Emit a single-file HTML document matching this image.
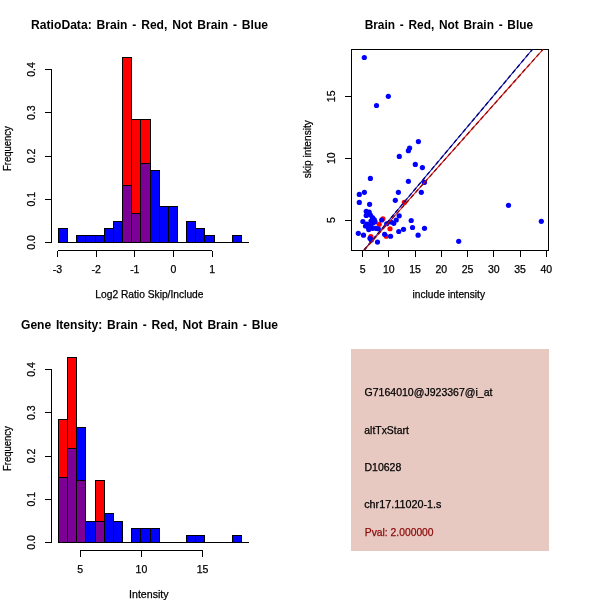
<!DOCTYPE html>
<html><head><meta charset="utf-8"><title>plot</title>
<style>
html,body{margin:0;padding:0;background:#fff;}
svg{display:block;}
text{font-family:"Liberation Sans",sans-serif;fill:#000;}
.t{font-size:10.5px;stroke:#000;stroke-width:0.25px;}
.h{font-size:12.5px;font-weight:bold;word-spacing:1.5px;}
</style></head><body>
<svg width="600" height="600" viewBox="0 0 600 600" shape-rendering="crispEdges">
<rect x="0" y="0" width="600" height="600" fill="#fff"/>
<!-- panel 1 -->
<text class="h" text-anchor="middle" x="149.6" y="29.2" textLength="237" lengthAdjust="spacingAndGlyphs">RatioData: Brain - Red, Not Brain - Blue</text>
<rect x="58.5" y="228.5" width="9.0" height="14.0" fill="#0000ff" stroke="#000" stroke-width="1"/>
<rect x="76.5" y="235.5" width="9.0" height="7.0" fill="#0000ff" stroke="#000" stroke-width="1"/>
<rect x="85.5" y="235.5" width="10.0" height="7.0" fill="#0000ff" stroke="#000" stroke-width="1"/>
<rect x="95.5" y="235.5" width="9.0" height="7.0" fill="#0000ff" stroke="#000" stroke-width="1"/>
<rect x="104.5" y="228.5" width="9.0" height="14.0" fill="#0000ff" stroke="#000" stroke-width="1"/>
<rect x="113.5" y="221.5" width="9.0" height="21.0" fill="#0000ff" stroke="#000" stroke-width="1"/>
<rect x="122.5" y="185.5" width="9.0" height="57.0" fill="#0000ff" stroke="#000" stroke-width="1"/>
<rect x="131.5" y="213.5" width="9.0" height="29.0" fill="#0000ff" stroke="#000" stroke-width="1"/>
<rect x="140.5" y="163.5" width="10.0" height="79.0" fill="#0000ff" stroke="#000" stroke-width="1"/>
<rect x="150.5" y="170.5" width="9.0" height="72.0" fill="#0000ff" stroke="#000" stroke-width="1"/>
<rect x="159.5" y="206.5" width="9.0" height="36.0" fill="#0000ff" stroke="#000" stroke-width="1"/>
<rect x="168.5" y="206.5" width="9.0" height="36.0" fill="#0000ff" stroke="#000" stroke-width="1"/>
<rect x="186.5" y="221.5" width="9.0" height="21.0" fill="#0000ff" stroke="#000" stroke-width="1"/>
<rect x="195.5" y="228.5" width="9.0" height="14.0" fill="#0000ff" stroke="#000" stroke-width="1"/>
<rect x="204.5" y="235.5" width="10.0" height="7.0" fill="#0000ff" stroke="#000" stroke-width="1"/>
<rect x="232.5" y="235.5" width="9.0" height="7.0" fill="#0000ff" stroke="#000" stroke-width="1"/>
<line x1="58" y1="242.5" x2="249" y2="242.5" stroke="#000" stroke-width="1"/>
<rect x="122.5" y="57.5" width="9.0" height="185.0" fill="#ff0000" stroke="#000" stroke-width="1"/>
<rect x="122.5" y="185.5" width="9.0" height="57.0" fill="#7d0096" stroke="#000" stroke-width="1"/>
<rect x="131.5" y="119.5" width="9.0" height="123.0" fill="#ff0000" stroke="#000" stroke-width="1"/>
<rect x="131.5" y="213.5" width="9.0" height="29.0" fill="#7d0096" stroke="#000" stroke-width="1"/>
<rect x="140.5" y="119.5" width="10.0" height="123.0" fill="#ff0000" stroke="#000" stroke-width="1"/>
<rect x="140.5" y="163.5" width="10.0" height="79.0" fill="#7d0096" stroke="#000" stroke-width="1"/>
<line x1="51.5" y1="69.5" x2="51.5" y2="242.5" stroke="#000"/>
<line x1="44.5" y1="242.5" x2="51.5" y2="242.5" stroke="#000"/>
<text class="t" text-anchor="middle" transform="translate(34.8,242.5) rotate(-90)">0.0</text>
<line x1="44.5" y1="199.25" x2="51.5" y2="199.25" stroke="#000"/>
<text class="t" text-anchor="middle" transform="translate(34.8,199.25) rotate(-90)">0.1</text>
<line x1="44.5" y1="156.0" x2="51.5" y2="156.0" stroke="#000"/>
<text class="t" text-anchor="middle" transform="translate(34.8,156.0) rotate(-90)">0.2</text>
<line x1="44.5" y1="112.75" x2="51.5" y2="112.75" stroke="#000"/>
<text class="t" text-anchor="middle" transform="translate(34.8,112.75) rotate(-90)">0.3</text>
<line x1="44.5" y1="69.5" x2="51.5" y2="69.5" stroke="#000"/>
<text class="t" text-anchor="middle" transform="translate(34.8,69.5) rotate(-90)">0.4</text>
<line x1="57.5" y1="250.5" x2="212.2" y2="250.5" stroke="#000"/>
<line x1="57.5" y1="250.5" x2="57.5" y2="257.0" stroke="#000"/>
<text class="t" text-anchor="middle" x="57.5" y="273.2">-3</text>
<line x1="96.2" y1="250.5" x2="96.2" y2="257.0" stroke="#000"/>
<text class="t" text-anchor="middle" x="96.2" y="273.2">-2</text>
<line x1="134.8" y1="250.5" x2="134.8" y2="257.0" stroke="#000"/>
<text class="t" text-anchor="middle" x="134.8" y="273.2">-1</text>
<line x1="173.4" y1="250.5" x2="173.4" y2="257.0" stroke="#000"/>
<text class="t" text-anchor="middle" x="173.4" y="273.2">0</text>
<line x1="212.2" y1="250.5" x2="212.2" y2="257.0" stroke="#000"/>
<text class="t" text-anchor="middle" x="212.2" y="273.2">1</text>
<text class="t" text-anchor="middle" x="149.4" y="297.8" textLength="108.2" lengthAdjust="spacingAndGlyphs">Log2 Ratio Skip/Include</text>
<text class="t" text-anchor="middle" transform="translate(11.2,148.6) rotate(-90)" textLength="44.8" lengthAdjust="spacingAndGlyphs">Frequency</text>
<!-- panel 2 -->
<text class="h" text-anchor="middle" x="448.9" y="29.2" textLength="168.5" lengthAdjust="spacingAndGlyphs">Brain - Red, Not Brain - Blue</text>
<rect x="351.5" y="49.5" width="197" height="201" fill="none" stroke="#000"/>
<g shape-rendering="geometricPrecision">
<circle cx="382.9" cy="218.75" r="2.6" fill="#ff0000"/>
<circle cx="379.2" cy="224.3" r="2.6" fill="#ff0000"/>
<circle cx="390" cy="228.75" r="2.6" fill="#ff0000"/>
<circle cx="404.3" cy="202.4" r="2.6" fill="#ff0000"/>
<circle cx="370.8" cy="236.7" r="2.6" fill="#ff0000"/>
<circle cx="386.25" cy="236.25" r="2.6" fill="#ff0000"/>
<circle cx="424.3" cy="182.3" r="2.6" fill="#ff0000"/>
<circle cx="364.3" cy="57.5" r="2.6" fill="#0000ff"/>
<circle cx="388.3" cy="96.3" r="2.6" fill="#0000ff"/>
<circle cx="376.5" cy="105.5" r="2.6" fill="#0000ff"/>
<circle cx="418.4" cy="141.6" r="2.6" fill="#0000ff"/>
<circle cx="409.6" cy="148" r="2.6" fill="#0000ff"/>
<circle cx="408.4" cy="150.7" r="2.6" fill="#0000ff"/>
<circle cx="399.3" cy="156.4" r="2.6" fill="#0000ff"/>
<circle cx="415.3" cy="164.4" r="2.6" fill="#0000ff"/>
<circle cx="422.4" cy="167.6" r="2.6" fill="#0000ff"/>
<circle cx="370.4" cy="178.4" r="2.6" fill="#0000ff"/>
<circle cx="408.4" cy="181.3" r="2.6" fill="#0000ff"/>
<circle cx="424.3" cy="182.3" r="2.6" fill="#0000ff"/>
<circle cx="364.4" cy="192.3" r="2.6" fill="#0000ff"/>
<circle cx="359.3" cy="194.4" r="2.6" fill="#0000ff"/>
<circle cx="398.4" cy="192.3" r="2.6" fill="#0000ff"/>
<circle cx="421.3" cy="192.3" r="2.6" fill="#0000ff"/>
<circle cx="395.3" cy="200.3" r="2.6" fill="#0000ff"/>
<circle cx="359.3" cy="202.4" r="2.6" fill="#0000ff"/>
<circle cx="369.6" cy="204.3" r="2.6" fill="#0000ff"/>
<circle cx="366.25" cy="211.25" r="2.6" fill="#0000ff"/>
<circle cx="369.2" cy="212.1" r="2.6" fill="#0000ff"/>
<circle cx="366.25" cy="215.4" r="2.6" fill="#0000ff"/>
<circle cx="370.4" cy="215" r="2.6" fill="#0000ff"/>
<circle cx="372.5" cy="217.5" r="2.6" fill="#0000ff"/>
<circle cx="374.2" cy="219.6" r="2.6" fill="#0000ff"/>
<circle cx="375" cy="221.7" r="2.6" fill="#0000ff"/>
<circle cx="362.9" cy="221.5" r="2.6" fill="#0000ff"/>
<circle cx="381.7" cy="220" r="2.6" fill="#0000ff"/>
<circle cx="367.9" cy="226.7" r="2.6" fill="#0000ff"/>
<circle cx="370.8" cy="225" r="2.6" fill="#0000ff"/>
<circle cx="368.75" cy="229.6" r="2.6" fill="#0000ff"/>
<circle cx="372.5" cy="228.3" r="2.6" fill="#0000ff"/>
<circle cx="375.8" cy="228.3" r="2.6" fill="#0000ff"/>
<circle cx="378.3" cy="228.75" r="2.6" fill="#0000ff"/>
<circle cx="358.3" cy="233.3" r="2.6" fill="#0000ff"/>
<circle cx="363.5" cy="235.2" r="2.6" fill="#0000ff"/>
<circle cx="370" cy="238.3" r="2.6" fill="#0000ff"/>
<circle cx="371.25" cy="240" r="2.6" fill="#0000ff"/>
<circle cx="377.5" cy="242.1" r="2.6" fill="#0000ff"/>
<circle cx="384.6" cy="234.3" r="2.6" fill="#0000ff"/>
<circle cx="390.6" cy="236.25" r="2.6" fill="#0000ff"/>
<circle cx="398.75" cy="231.5" r="2.6" fill="#0000ff"/>
<circle cx="396.25" cy="220" r="2.6" fill="#0000ff"/>
<circle cx="393.75" cy="223.3" r="2.6" fill="#0000ff"/>
<circle cx="386.7" cy="223.75" r="2.6" fill="#0000ff"/>
<circle cx="399.2" cy="215.8" r="2.6" fill="#0000ff"/>
<circle cx="508.5" cy="205.3" r="2.6" fill="#0000ff"/>
<circle cx="541.3" cy="221.3" r="2.6" fill="#0000ff"/>
<circle cx="458.7" cy="241.3" r="2.6" fill="#0000ff"/>
<circle cx="411.2" cy="220.5" r="2.6" fill="#0000ff"/>
<circle cx="412.5" cy="227.5" r="2.6" fill="#0000ff"/>
<circle cx="424.5" cy="228.3" r="2.6" fill="#0000ff"/>
<circle cx="418.1" cy="235.2" r="2.6" fill="#0000ff"/>
<circle cx="403.5" cy="229.3" r="2.6" fill="#0000ff"/>
<circle cx="391" cy="222" r="2.6" fill="#0000ff"/>
<circle cx="365.5" cy="226" r="2.6" fill="#0000ff"/>
<circle cx="367" cy="224" r="2.6" fill="#0000ff"/>
<circle cx="373" cy="223" r="2.6" fill="#0000ff"/>
<circle cx="369" cy="227" r="2.6" fill="#0000ff"/>
<circle cx="371" cy="221" r="2.6" fill="#0000ff"/>
<line x1="364" y1="250" x2="532.3" y2="49.5" stroke="#1818b8" stroke-width="1.1"/>
<line x1="364" y1="250" x2="532.3" y2="49.5" stroke="#000078" stroke-width="1.3" stroke-dasharray="4 3"/>
<line x1="364.3" y1="250" x2="542.9" y2="49.5" stroke="#e01010" stroke-width="1.1"/>
<line x1="364.3" y1="250" x2="542.9" y2="49.5" stroke="#900808" stroke-width="1.3" stroke-dasharray="4 3"/>
</g>
<line x1="344.5" y1="220.2" x2="351.5" y2="220.2" stroke="#000"/>
<text class="t" text-anchor="middle" transform="translate(334.8,220.2) rotate(-90)">5</text>
<line x1="344.5" y1="158.2" x2="351.5" y2="158.2" stroke="#000"/>
<text class="t" text-anchor="middle" transform="translate(334.8,158.2) rotate(-90)">10</text>
<line x1="344.5" y1="96.3" x2="351.5" y2="96.3" stroke="#000"/>
<text class="t" text-anchor="middle" transform="translate(334.8,96.3) rotate(-90)">15</text>
<line x1="362.6" y1="250.5" x2="362.6" y2="257.0" stroke="#000"/>
<text class="t" text-anchor="middle" x="362.6" y="272.5">5</text>
<line x1="388.85" y1="250.5" x2="388.85" y2="257.0" stroke="#000"/>
<text class="t" text-anchor="middle" x="388.85" y="272.5">10</text>
<line x1="415.1" y1="250.5" x2="415.1" y2="257.0" stroke="#000"/>
<text class="t" text-anchor="middle" x="415.1" y="272.5">15</text>
<line x1="441.35" y1="250.5" x2="441.35" y2="257.0" stroke="#000"/>
<text class="t" text-anchor="middle" x="441.35" y="272.5">20</text>
<line x1="467.6" y1="250.5" x2="467.6" y2="257.0" stroke="#000"/>
<text class="t" text-anchor="middle" x="467.6" y="272.5">25</text>
<line x1="493.85" y1="250.5" x2="493.85" y2="257.0" stroke="#000"/>
<text class="t" text-anchor="middle" x="493.85" y="272.5">30</text>
<line x1="520.1" y1="250.5" x2="520.1" y2="257.0" stroke="#000"/>
<text class="t" text-anchor="middle" x="520.1" y="272.5">35</text>
<line x1="546.35" y1="250.5" x2="546.35" y2="257.0" stroke="#000"/>
<text class="t" text-anchor="middle" x="546.35" y="272.5">40</text>
<text class="t" text-anchor="middle" x="448.8" y="297.8" textLength="72.5" lengthAdjust="spacingAndGlyphs">include intensity</text>
<text class="t" text-anchor="middle" transform="translate(310.5,149.2) rotate(-90)" textLength="58.3" lengthAdjust="spacingAndGlyphs">skip intensity</text>
<!-- panel 3 -->
<text class="h" text-anchor="middle" x="149.5" y="329.2" textLength="257" lengthAdjust="spacingAndGlyphs">Gene Itensity: Brain - Red, Not Brain - Blue</text>
<rect x="58.5" y="477.5" width="9.0" height="65.0" fill="#0000ff" stroke="#000" stroke-width="1"/>
<rect x="67.5" y="448.5" width="9.0" height="94.0" fill="#0000ff" stroke="#000" stroke-width="1"/>
<rect x="76.5" y="427.5" width="9.0" height="115.0" fill="#0000ff" stroke="#000" stroke-width="1"/>
<rect x="85.5" y="521.5" width="10.0" height="21.0" fill="#0000ff" stroke="#000" stroke-width="1"/>
<rect x="95.5" y="521.5" width="9.0" height="21.0" fill="#0000ff" stroke="#000" stroke-width="1"/>
<rect x="104.5" y="513.5" width="9.0" height="29.0" fill="#0000ff" stroke="#000" stroke-width="1"/>
<rect x="113.5" y="521.5" width="9.0" height="21.0" fill="#0000ff" stroke="#000" stroke-width="1"/>
<rect x="131.5" y="528.5" width="9.0" height="14.0" fill="#0000ff" stroke="#000" stroke-width="1"/>
<rect x="140.5" y="528.5" width="10.0" height="14.0" fill="#0000ff" stroke="#000" stroke-width="1"/>
<rect x="150.5" y="528.5" width="9.0" height="14.0" fill="#0000ff" stroke="#000" stroke-width="1"/>
<rect x="186.5" y="535.5" width="9.0" height="7.0" fill="#0000ff" stroke="#000" stroke-width="1"/>
<rect x="195.5" y="535.5" width="9.0" height="7.0" fill="#0000ff" stroke="#000" stroke-width="1"/>
<rect x="232.5" y="535.5" width="9.0" height="7.0" fill="#0000ff" stroke="#000" stroke-width="1"/>
<line x1="58" y1="542.5" x2="249" y2="542.5" stroke="#000" stroke-width="1"/>
<rect x="58.5" y="419.5" width="9.0" height="123.0" fill="#ff0000" stroke="#000" stroke-width="1"/>
<rect x="58.5" y="477.5" width="9.0" height="65.0" fill="#7d0096" stroke="#000" stroke-width="1"/>
<rect x="67.5" y="357.5" width="9.0" height="185.0" fill="#ff0000" stroke="#000" stroke-width="1"/>
<rect x="67.5" y="448.5" width="9.0" height="94.0" fill="#7d0096" stroke="#000" stroke-width="1"/>
<rect x="76.5" y="480.5" width="9.0" height="62.0" fill="#ff0000" stroke="#000" stroke-width="1"/>
<rect x="76.5" y="480.5" width="9.0" height="62.0" fill="#7d0096" stroke="#000" stroke-width="1"/>
<rect x="76.5" y="427.5" width="9.0" height="53.0" fill="#0000ff" stroke="#000" stroke-width="1"/>
<rect x="95.5" y="480.5" width="9.0" height="62.0" fill="#ff0000" stroke="#000" stroke-width="1"/>
<rect x="95.5" y="521.5" width="9.0" height="21.0" fill="#7d0096" stroke="#000" stroke-width="1"/>
<line x1="51.5" y1="369.5" x2="51.5" y2="542.5" stroke="#000"/>
<line x1="44.5" y1="542.5" x2="51.5" y2="542.5" stroke="#000"/>
<text class="t" text-anchor="middle" transform="translate(34.8,542.5) rotate(-90)">0.0</text>
<line x1="44.5" y1="499.25" x2="51.5" y2="499.25" stroke="#000"/>
<text class="t" text-anchor="middle" transform="translate(34.8,499.25) rotate(-90)">0.1</text>
<line x1="44.5" y1="456.0" x2="51.5" y2="456.0" stroke="#000"/>
<text class="t" text-anchor="middle" transform="translate(34.8,456.0) rotate(-90)">0.2</text>
<line x1="44.5" y1="412.75" x2="51.5" y2="412.75" stroke="#000"/>
<text class="t" text-anchor="middle" transform="translate(34.8,412.75) rotate(-90)">0.3</text>
<line x1="44.5" y1="369.5" x2="51.5" y2="369.5" stroke="#000"/>
<text class="t" text-anchor="middle" transform="translate(34.8,369.5) rotate(-90)">0.4</text>
<line x1="80.2" y1="550.5" x2="202.6" y2="550.5" stroke="#000"/>
<line x1="80.2" y1="550.5" x2="80.2" y2="557.0" stroke="#000"/>
<text class="t" text-anchor="middle" x="80.2" y="573.2">5</text>
<line x1="141.4" y1="550.5" x2="141.4" y2="557.0" stroke="#000"/>
<text class="t" text-anchor="middle" x="141.4" y="573.2">10</text>
<line x1="202.6" y1="550.5" x2="202.6" y2="557.0" stroke="#000"/>
<text class="t" text-anchor="middle" x="202.6" y="573.2">15</text>
<text class="t" text-anchor="middle" x="148.8" y="598.2" textLength="39.5" lengthAdjust="spacingAndGlyphs">Intensity</text>
<text class="t" text-anchor="middle" transform="translate(11.2,448.6) rotate(-90)" textLength="44.8" lengthAdjust="spacingAndGlyphs">Frequency</text>
<!-- panel 4 -->
<rect x="351" y="349" width="198" height="201.5" fill="#e8c9c2"/>
<text class="t" x="364.5" y="395.5" textLength="128" lengthAdjust="spacingAndGlyphs">G7164010@J923367@i_at</text>
<text class="t" x="364.3" y="433.7" textLength="44.5" lengthAdjust="spacingAndGlyphs">altTxStart</text>
<text class="t" x="364.5" y="470.5" textLength="36.8" lengthAdjust="spacingAndGlyphs">D10628</text>
<text class="t" x="364.2" y="508" textLength="77.2" lengthAdjust="spacingAndGlyphs">chr17.11020-1.s</text>
<text class="t" x="364.8" y="535.7" textLength="68.8" lengthAdjust="spacingAndGlyphs" style="fill:#8b0a0a;stroke:#8b0a0a">Pval: 2.000000</text>
</svg>
</body></html>
